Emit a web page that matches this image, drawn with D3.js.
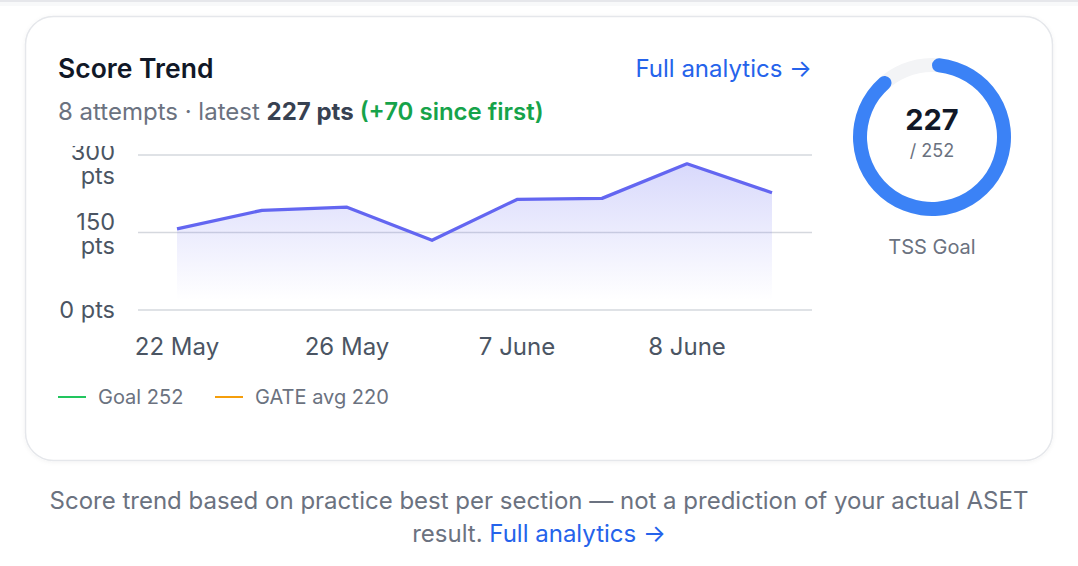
<!DOCTYPE html>
<html>
<head>
<meta charset="utf-8">
<script src="https://cdn.jsdelivr.net/npm/d3@7"></script>
<style>
  body { margin: 0; width: 1078px; height: 566px; background: #fff; overflow: hidden;
         font-family: Inter, "Noto Sans", sans-serif; }
  svg text { font-family: Inter, "Noto Sans", sans-serif; }
</style>
</head>
<body>
<svg id="page" width="1078" height="566"></svg>
<script>
// chart data
var attemptDates = ["22 May", "24 May", "26 May", "29 May", "7 June", "7 June", "8 June", "9 June"];
var scores = [157, 193, 199, 135, 214, 216, 283, 227];
var yTicks = [0, 150, 300];
var xTickEvery = 2;   // only every other date gets a label

var goal = 252, latest = 227, gain = 70;
var legendItems = ["Goal 252", "GATE avg 220"];
var legendColors = ["#22c55e", "#f59e0b"];

var svg = d3.select("#page");
var defs = svg.append("defs");

defs.append("filter").attr("id", "soft")
    .attr("x", -0.1).attr("y", -0.1).attr("width", 1.2).attr("height", 1.4)
    .append("feDropShadow").attr("dx", 0).attr("dy", 1).attr("stdDeviation", 2)
    .attr("flood-color", "#000").attr("flood-opacity", 0.05);

// faint bar at the very top
svg.append("rect").attr("x", 0).attr("y", 0).attr("width", 1078).attr("height", 2)
    .attr("fill", "#e6e7eb");
svg.append("rect").attr("x", 0).attr("y", 2).attr("width", 1078).attr("height", 4)
    .attr("fill", "#f4f5f7").attr("opacity", 0.6);

// card
svg.append("rect")
    .attr("x", 25.5).attr("y", 16.5).attr("width", 1027).attr("height", 444)
    .attr("rx", 28).attr("fill", "#fff")
    .attr("stroke", "#e5e7eb").attr("stroke-width", 1.5)
    .attr("filter", "url(#soft)");

// header
svg.append("text").attr("x", 58).attr("y", 78)
    .attr("font-size", 26.5).attr("font-weight", 600).attr("fill", "#111827")
    .text("Score Trend");

var sub = svg.append("text").attr("x", 58).attr("y", 120)
    .attr("font-size", 24).attr("fill", "#6b7280");
sub.append("tspan").text(attemptDates.length + " attempts · latest ");
sub.append("tspan").attr("font-weight", 700).attr("fill", "#374151").text(latest + " pts");
sub.append("tspan").attr("font-weight", 600).attr("fill", "#16a34a")
    .text(" (+" + gain + " since first)");

svg.append("text").attr("x", 812).attr("y", 77).attr("text-anchor", "end")
    .attr("font-size", 24).attr("fill", "#2563eb")
    .text("Full analytics →");

// line chart
var chart = svg.append("svg")
    .attr("x", 40).attr("y", 146).attr("width", 790).attr("height", 228)
    .style("overflow", "hidden");

var x = d3.scalePoint().domain(d3.range(scores.length)).range([137, 732]);
var y = d3.scaleLinear().domain([0, 300]).range([164, 9]);

// gridlines
chart.append("g").selectAll("line").data(yTicks).join("line")
    .attr("x1", 98).attr("x2", 772)
    .attr("y1", d => y(d)).attr("y2", d => y(d))
    .attr("stroke", "#d5d8de").attr("stroke-width", 1.5);

// y labels, wrapped to two lines when too wide
var yl = chart.append("g").selectAll("text").data(yTicks).join("text")
    .attr("x", 75).attr("text-anchor", "end")
    .attr("font-size", 23.5).attr("fill", "#4b5563");
yl.each(function(d) {
    var t = d3.select(this);
    t.text(d + " pts");
    if (this.getComputedTextLength() > 62) {
        t.text(null);
        var base = Math.max(y(d) - 3, 14);
        t.append("tspan").attr("x", 75).attr("y", base).text(d);
        t.append("tspan").attr("x", 75).attr("y", base + 24).text("pts");
    } else {
        t.attr("y", y(d) + 8);
    }
});

// x labels
chart.append("g").selectAll("text")
    .data(d3.range(scores.length).filter(i => i % xTickEvery === 0)).join("text")
    .attr("x", i => x(i)).attr("y", 209).attr("text-anchor", "middle")
    .attr("font-size", 24).attr("fill", "#4b5563")
    .text(i => attemptDates[i]);

var grad = defs.append("linearGradient").attr("id", "areaFill")
    .attr("x1", 0).attr("y1", 0).attr("x2", 0).attr("y2", 1);
grad.append("stop").attr("offset", "0%").attr("stop-color", "#6366f1").attr("stop-opacity", 0.25);
grad.append("stop").attr("offset", "93%").attr("stop-color", "#6366f1").attr("stop-opacity", 0);

chart.append("path").datum(scores)
    .attr("fill", "url(#areaFill)")
    .attr("d", d3.area().x((d, i) => x(i)).y0(y(0)).y1(d => y(d)));

chart.append("path").datum(scores)
    .attr("fill", "none").attr("stroke", "#6366f1").attr("stroke-width", 3.3)
    .attr("stroke-linejoin", "round")
    .attr("d", d3.line().x((d, i) => x(i)).y(d => y(d)));

// legend
var lg = svg.append("g").selectAll("g").data(legendItems).join("g")
    .attr("transform", (d, i) => "translate(" + (58 + i * 157) + ",397)");
lg.append("line").attr("x1", 0).attr("x2", 28)
    .attr("stroke", (d, i) => legendColors[i]).attr("stroke-width", 2);
lg.append("text").attr("x", 40).attr("y", 7)
    .attr("font-size", 20).attr("fill", "#6b7280").text(d => d);

// goal ring
var ring = svg.append("g").attr("transform", "translate(932,137)");
var arc = d3.arc().innerRadius(65).outerRadius(79).cornerRadius(7).startAngle(0);
ring.append("path").attr("fill", "#f3f4f6").attr("d", arc({endAngle: 2 * Math.PI}));
ring.append("path").attr("fill", "#3b82f6")
    .attr("d", arc({endAngle: 2 * Math.PI * latest / goal}));
ring.append("text").attr("y", -7).attr("text-anchor", "middle")
    .attr("font-size", 29).attr("font-weight", 700).attr("fill", "#111827")
    .text(latest);
ring.append("text").attr("y", 20).attr("text-anchor", "middle")
    .attr("font-size", 18).attr("fill", "#6b7280")
    .text("/ " + goal);
svg.append("text").attr("x", 932).attr("y", 254).attr("text-anchor", "middle")
    .attr("font-size", 20).attr("fill", "#6b7280").text("TSS Goal");

// footer note
var note = svg.append("text").attr("text-anchor", "middle")
    .attr("font-size", 24).attr("fill", "#6b7280");
note.append("tspan").attr("x", 539).attr("y", 509)
    .text("Score trend based on practice best per section — not a prediction of your actual ASET");
note.append("tspan").attr("x", 539).attr("y", 542).text("result. ")
    .append("tspan").attr("fill", "#2563eb").text("Full analytics →");
</script>
</body>
</html>
